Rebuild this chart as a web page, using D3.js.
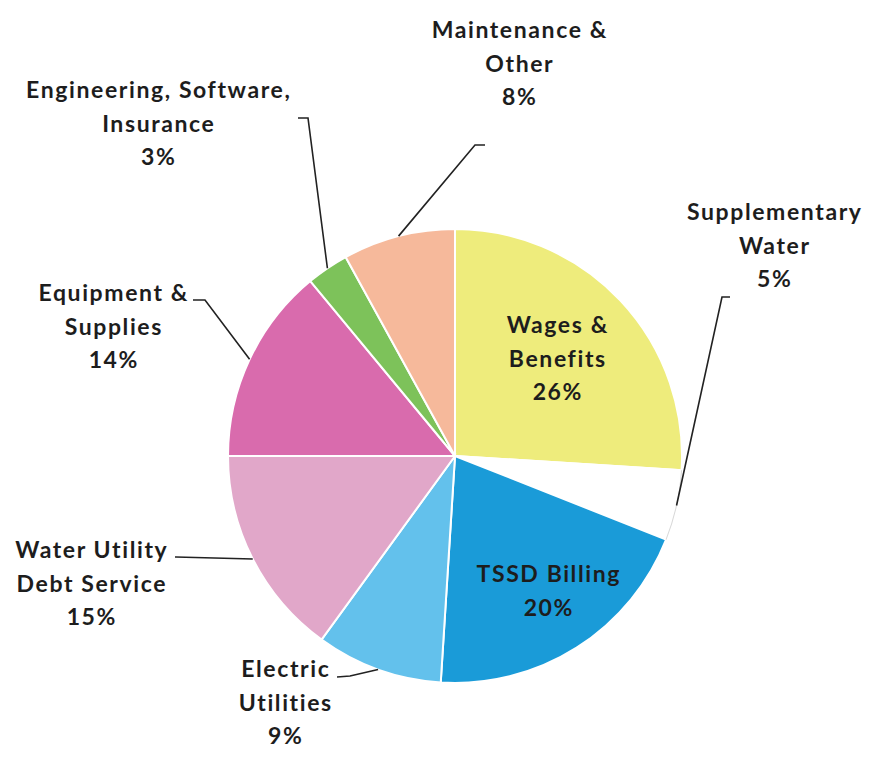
<!DOCTYPE html>
<html>
<head>
<meta charset="utf-8">
<script src="https://cdn.jsdelivr.net/npm/d3@7"></script>
<style>
  html, body { margin: 0; padding: 0; background: #fff; }
  svg text { font-family: Lato, "Open Sans", sans-serif; font-weight: 700; fill: #1d1d1d; }
</style>
</head>
<body>
<svg id="chart" width="883" height="761"></svg>
<script>
// Budget shares, clockwise from 12 o'clock
const categories = [
  "Wages & Benefits",
  "Supplementary Water",
  "TSSD Billing",
  "Electric Utilities",
  "Water Utility Debt Service",
  "Equipment & Supplies",
  "Engineering, Software, Insurance",
  "Maintenance & Other"
];
const shares = [26, 5, 20, 9, 15, 14, 3, 8];
const colors = ["#eeec7c", "#ffffff", "#1a9bd8", "#63c1ec", "#e1a7c9", "#d96bad", "#7dc25a", "#f6b99b"];

// Label text lines (the percentage line is added from shares)
const labelLines = [
  ["Wages &", "Benefits"],
  ["Supplementary", "Water"],
  ["TSSD Billing"],
  ["Electric", "Utilities"],
  ["Water Utility", "Debt Service"],
  ["Equipment &", "Supplies"],
  ["Engineering, Software,", "Insurance"],
  ["Maintenance &", "Other"]
];

// Label layout: centre x, first baseline, and leader line elbow (none for inside labels)
const labelLayout = [
  { x: 557, y: 333 },
  { x: 774, y: 220, elbow: [[730, 297], [722, 297]] },
  { x: 548, y: 582 },
  { x: 285, y: 677, elbow: [[337, 677], [350, 676]] },
  { x: 91,  y: 558, elbow: [[175, 557], [176, 557]] },
  { x: 113, y: 301, elbow: [[193, 300], [205, 300]] },
  { x: 158, y: 98,  elbow: [[298, 118], [308, 118]] },
  { x: 519, y: 38,  elbow: [[485, 145], [475, 145]] }
];

const cx = 455, cy = 456, R = 227;
const lineH = 33.5;

const svg = d3.select("#chart");
const g = svg.append("g").attr("transform", `translate(${cx},${cy})`);

const pie = d3.pie().sort(null).value(d => d)(shares);
const arc = d3.arc().innerRadius(0).outerRadius(R);

g.selectAll("path.slice")
  .data(pie)
  .join("path")
  .attr("class", "slice")
  .attr("d", arc)
  .attr("fill", (d, i) => colors[i])
  .attr("stroke", "#ffffff")
  .attr("stroke-width", 2);

// faint rim around the white slice so its edge reads against the page
g.append("path")
  .attr("d", d3.arc().innerRadius(R - 0.5).outerRadius(R + 0.5)(pie[1]))
  .attr("fill", "#d8d8d8");

// leader lines: elbow -> point on the rim at the slice's mid angle
pie.forEach((d, i) => {
  const L = labelLayout[i];
  if (!L.elbow) return;
  const a = (d.startAngle + d.endAngle) / 2;
  const px = cx + R * Math.sin(a), py = cy - R * Math.cos(a);
  svg.append("path")
    .attr("d", d3.line()([...L.elbow, [px, py]]))
    .attr("fill", "none")
    .attr("stroke", "#222")
    .attr("stroke-width", 1.6);
});

// labels
const ls = 1.6;
pie.forEach((d, i) => {
  const L = labelLayout[i];
  const lines = [...labelLines[i], shares[i] + "%"];
  const t = svg.append("text")
    .attr("text-anchor", "middle")
    .attr("font-size", 23)
    .attr("letter-spacing", ls);
  lines.forEach((s, k) => {
    // shift by half the letter spacing so trailing spacing does not skew centring
    t.append("tspan").attr("x", L.x + ls / 2).attr("y", L.y + k * lineH).text(s);
  });
});
</script>
</body>
</html>
